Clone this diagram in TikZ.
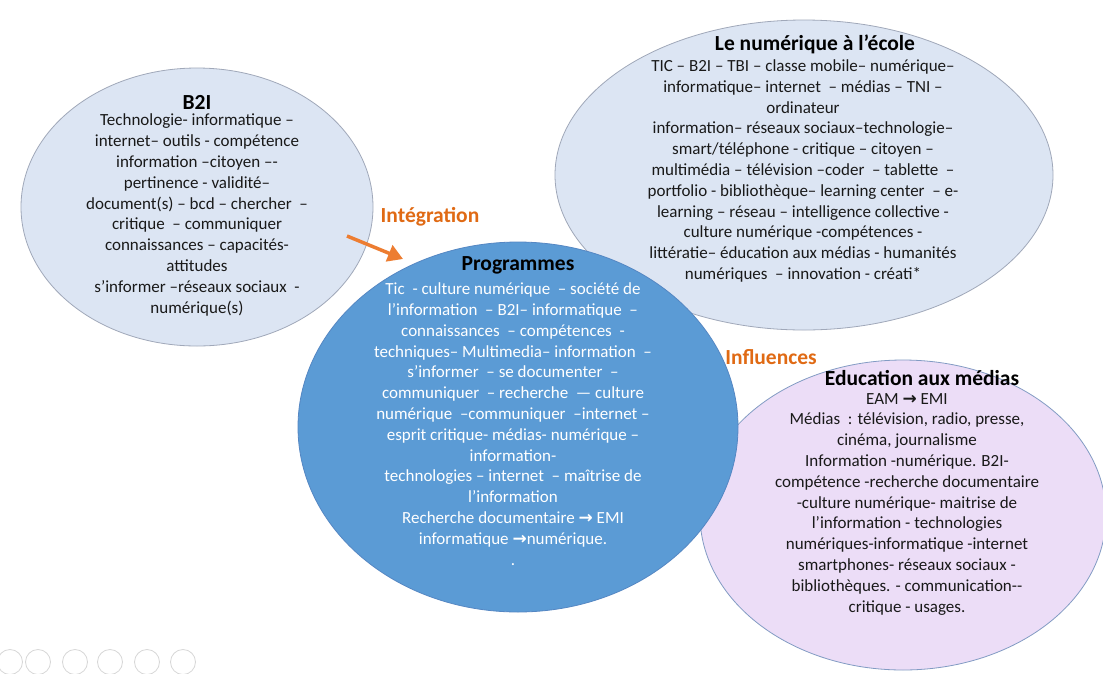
\documentclass[tikz,border=0pt]{standalone}
\usepackage{fontspec}
\setmainfont{Carlito}
\newfontfamily\arr{DejaVu Sans}
\usetikzlibrary{shapes.geometric,arrows.meta}
\definecolor{lblue}{RGB}{220,229,243}
\definecolor{lbord}{RGB}{160,168,185}
\definecolor{pblue}{RGB}{91,155,213}
\definecolor{pbord}{RGB}{85,135,195}
\definecolor{lpurple}{RGB}{236,221,247}
\definecolor{ebord}{RGB}{130,155,195}
\definecolor{orangetxt}{RGB}{224,106,20}
\definecolor{orangearr}{RGB}{237,125,49}
\definecolor{txt}{RGB}{25,25,25}
\definecolor{iconc}{RGB}{215,215,215}
\tikzset{
  bubble/.style={ellipse, draw, line width=0.8pt, inner sep=0pt},
  body/.style={align=center, inner sep=0pt, text=txt, font=\fontsize{17}{20.8}\selectfont},
  title/.style={inner sep=0pt, text=black, font=\bfseries\fontsize{21.5}{24}\selectfont},
  lab/.style={inner sep=0pt, text=orangetxt, font=\bfseries\fontsize{21.5}{24}\selectfont},
  icon/.style={circle, draw=iconc, line width=0.8pt, minimum size=25pt, inner sep=0pt}
}
\begin{document}
\begin{tikzpicture}[x=1pt,y=-1pt]
\useasboundingbox[fill=white] (0,0) rectangle (1103,673);

% ellipses
\node[bubble, draw=lbord, fill=lblue, minimum width=498, minimum height=310] (num) at (804,175) {};
\node[bubble, draw=ebord, fill=lpurple, minimum width=406, minimum height=310] (edu) at (903,515) {};
\node[bubble, draw=lbord, fill=lblue, minimum width=352, minimum height=278] (b2i) at (197,207) {};
\node[bubble, draw=pbord, fill=pblue, minimum width=440, minimum height=370] (prog) at (518,427) {};

% B2I
\node[title] (b2it) at (197,102) {B2I};
\node[body] (b2ib) at (197,215) {Technologie- informatique –\\
internet– outils - compétence\\
information –citoyen –-\\
pertinence - validité–\\
document(s) – bcd – chercher\ \ –\\
critique\ \ – communiquer\\
connaissances – capacités-\\
attitudes\\
s’informer –réseaux sociaux\ \ -\\
numérique(s)};

% Le numérique à l'école
\node[title] (numt) at (815,44) {Le numérique à l’école};
\node[body] (numb) at (803,171) {TIC – B2I – TBI – classe mobile– numérique–\\
informatique– internet\ \ – médias – TNI –\\
ordinateur\\
information– réseaux sociaux–technologie–\\
smart/téléphone - critique – citoyen –\\
multimédia – télévision –coder\ \ – tablette\ \ –\\
portfolio - bibliothèque– learning center\ \ – e-\\
learning – réseau – intelligence collective -\\
culture numérique -compétences -\\
littératie– éducation aux médias - humanités\\
numériques\ \ – innovation - créati*};

% Programmes
\node[title] (progt) at (518,265) {Programmes};
\node[body, text=white] (progb) at (513,424) {Tic\ \ - culture numérique\ \ – société de\\
l’information\ \ – B2I– informatique\ \ –\\
connaissances\ \ – compétences\ \ -\\
techniques– Multimedia– information\ \ –\\
s’informer\ \ – se documenter\ \ –\\
communiquer\ \ – recherche\ \ — culture\\
numérique\ \ –communiquer\ \ –internet –\\
esprit critique- médias- numérique –\\
information-\\
technologies – internet\ \ – maîtrise de\\
l’information\\
Recherche documentaire {\arr\bfseries →} EMI\\
informatique {\arr\bfseries →}numérique.\\
.};

% Education aux médias
\node[title] (edut) at (922,378) {Education aux médias};
\node[body] (edub) at (907,504) {EAM {\arr\bfseries →} EMI\\
Médias\ \ : télévision, radio, presse,\\
cinéma, journalisme\\
Information -numérique. B2I-\\
compétence -recherche documentaire\\
-culture numérique- maitrise de\\
l’information - technologies\\
numériques-informatique -internet\\
smartphones- réseaux sociaux -\\
bibliothèques. - communication-{}-\\
critique - usages.};

% labels and arrow
\node[lab] (integ) at (430,217) {Intégration};
\node[lab] (infl) at (771,357) {Influences};
\coordinate (a0) at (347,236);
\coordinate (a1) at (403,259);
\draw[orangearr, line width=3.5pt, -{Triangle[length=15pt,width=17pt]}] (a0) -- (a1);

% faint slideshow controls
\foreach \i/\x in {1/10,2/38,3/75,4/110,5/147,6/183}
  \node[icon] (ic\i) at (\x,662) {};
\end{tikzpicture}
\end{document}
